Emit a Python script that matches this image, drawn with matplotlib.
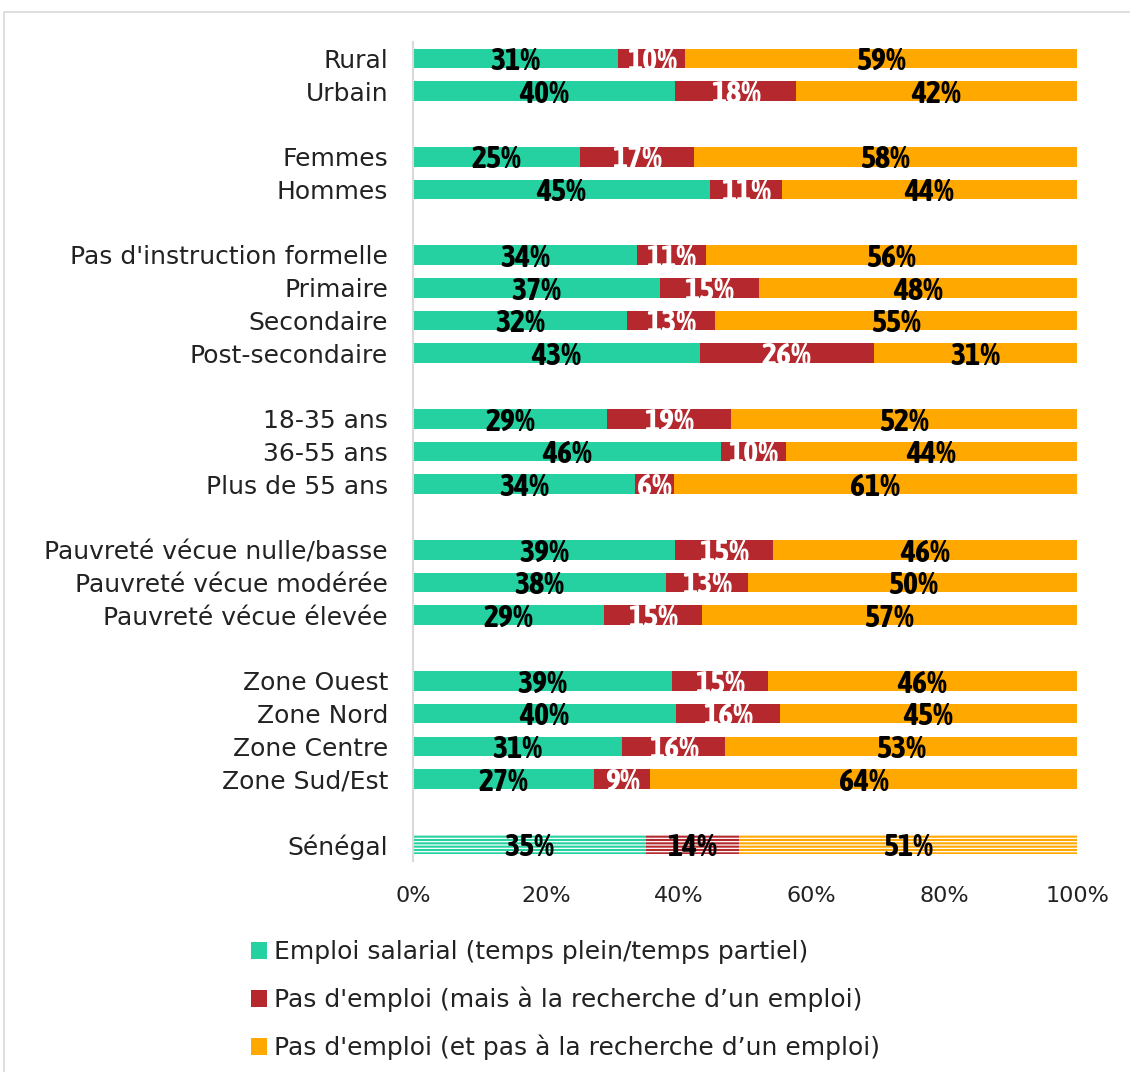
import matplotlib.pyplot as plt
from matplotlib.patches import Patch, Rectangle
from matplotlib import font_manager

categories = ['Rural', 'Urbain', '', 'Femmes', 'Hommes', '',
              "Pas d'instruction formelle", 'Primaire', 'Secondaire', 'Post-secondaire', '',
              '18-35 ans', '36-55 ans', 'Plus de 55 ans', '',
              'Pauvreté vécue nulle/basse', 'Pauvreté vécue modérée', 'Pauvreté vécue élevée', '',
              'Zone Ouest', 'Zone Nord', 'Zone Centre', 'Zone Sud/Est', '',
              'Sénégal']

# bar shares (%), None = spacer row
salarial = [30.9, 39.5, None, 25.2, 44.7, None, 33.7, 37.2, 32.2, 43.2, None,
            29.2, 46.4, 33.4, None, 39.5, 38.1, 28.8, None, 39.0, 39.6, 31.5, 27.3, None, 35.1]
recherche = [10.1, 18.2, None, 17.1, 10.9, None, 10.4, 14.9, 13.3, 26.2, None,
             18.7, 9.8, 5.9, None, 14.7, 12.4, 14.7, None, 14.5, 15.7, 15.5, 8.4, None, 14.0]
inactif = [59.0, 42.3, None, 57.7, 44.4, None, 55.9, 47.9, 54.5, 30.6, None,
           52.1, 43.8, 60.7, None, 45.8, 49.5, 56.5, None, 46.5, 44.7, 53.0, 64.3, None, 50.9]

# printed labels
lab_salarial = [31, 40, None, 25, 45, None, 34, 37, 32, 43, None, 29, 46, 34, None,
                39, 38, 29, None, 39, 40, 31, 27, None, 35]
lab_recherche = [10, 18, None, 17, 11, None, 11, 15, 13, 26, None, 19, 10, 6, None,
                 15, 13, 15, None, 15, 16, 16, 9, None, 14]
lab_inactif = [59, 42, None, 58, 44, None, 56, 48, 55, 31, None, 52, 44, 61, None,
               46, 50, 57, None, 46, 45, 53, 64, None, 51]

series_names = ['Emploi salarial (temps plein/temps partiel)',
                "Pas d'emploi (mais à la recherche d\u2019un emploi)",
                "Pas d'emploi (et pas à la recherche d\u2019un emploi)"]
colors = ['#25d1a0', '#b4282e', '#ffa800']

plt.rcParams['font.family'] = 'DejaVu Sans'
plt.rcParams['hatch.linewidth'] = 0.9

# narrow bold face for the bar labels, if one is around
narrow = None
for f in font_manager.fontManager.ttflist:
    if 'Condensed' in f.name or 'Narrow' in f.name:
        if f.weight in ('bold', 700) or 'Bold' in f.fname:
            narrow = f.name
            break

fig = plt.figure(figsize=(11.3, 10.72), dpi=100)
fig.patches.append(Rectangle((4 / 1130, -0.1), 1.2, 1 - 12 / 1072 + 0.1, transform=fig.transFigure,
                             fill=False, edgecolor='#d9d9d9', linewidth=1.2))
ax = fig.add_axes([0.3655, 0.1968, 0.5876, 0.764])

series = [salarial, recherche, inactif]
labels = [lab_salarial, lab_recherche, lab_inactif]
if narrow:
    label_font = dict(family=[narrow, 'DejaVu Sans'], fontweight='bold', fontsize=23)
else:
    label_font = dict(family='DejaVu Sans', fontweight='bold', fontsize=16)

for i, name in enumerate(categories):
    if salarial[i] is None:
        continue
    left = 0
    last = (name == 'Sénégal')
    for s in range(3):
        w = series[s][i]
        if last:
            ax.barh(i, w, left=left, height=0.6, color=colors[s], edgecolor='white',
                    linewidth=0, hatch='-----')
        else:
            ax.barh(i, w, left=left, height=0.6, color=colors[s], linewidth=0)
        tc = 'white' if (s == 1 and not last) else 'black'
        ax.text(left + w / 2, i + 0.1, f'{labels[s][i]}%', ha='center', va='center',
                color=tc, **label_font)
        left += w

ax.set_xlim(0, 100)
ax.set_ylim(24.5, -0.5)
ax.set_yticks(range(len(categories)))
ax.set_yticklabels(categories, fontsize=18, color='#222222')
ax.set_xticks([0, 20, 40, 60, 80, 100])
ax.set_xticklabels(['0%', '20%', '40%', '60%', '80%', '100%'], fontsize=16, color='#222222')
ax.tick_params(length=0, pad=18, axis='y')
ax.tick_params(length=0, pad=18, axis='x')
for side in ['top', 'right', 'bottom']:
    ax.spines[side].set_visible(False)
ax.spines['left'].set_color('#d9d9d9')
ax.spines['left'].set_linewidth(1.5)

handles = [Patch(facecolor=c, label=n) for c, n in zip(colors, series_names)]
fig.legend(handles=handles, loc='upper left', bbox_to_anchor=(228 / 1130, 1 - 918 / 1072),
           frameon=False, fontsize=18, handlelength=0.65, handleheight=0.65,
           handletextpad=0.3, labelspacing=0.9, labelcolor='#222222')

fig.savefig('out.png', dpi=100)
